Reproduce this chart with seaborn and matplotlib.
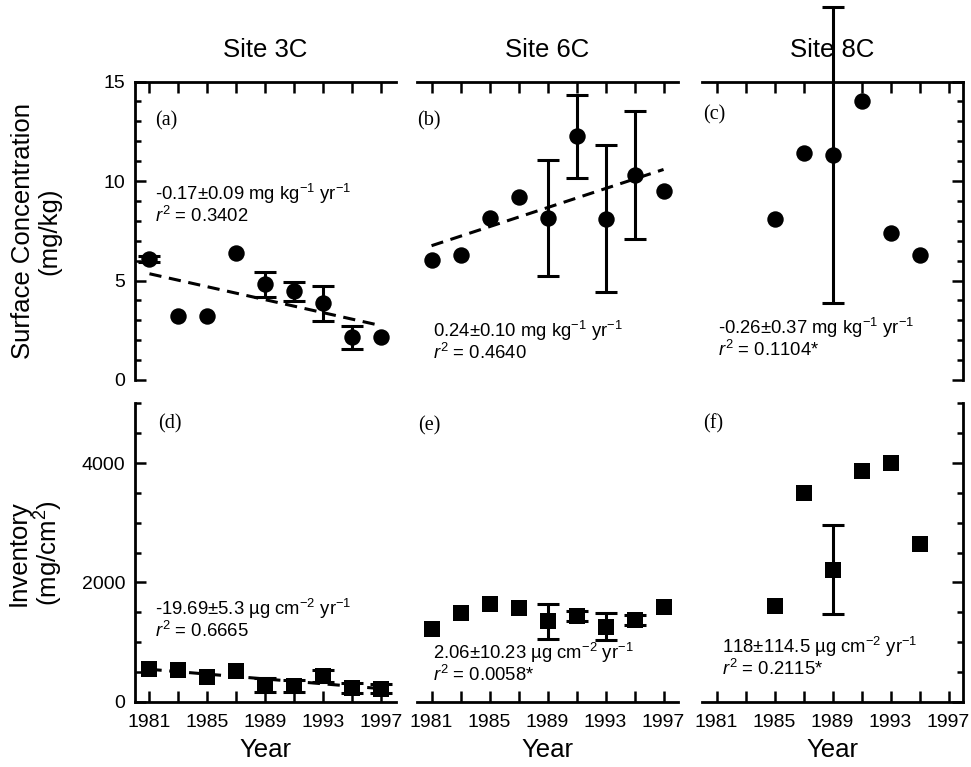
import numpy as np
import pandas as pd
import seaborn as sns
import matplotlib.pyplot as plt

# -----------------------------------
# Data
# -----------------------------------
years = [1981, 1983, 1985, 1987, 1989, 1991, 1993, 1995, 1997]
years_8c = [1985, 1987, 1989, 1991, 1993, 1995]
nan = np.nan

conc_3c = [6.1, 3.2, 3.2, 6.4, 4.8, 4.45, 3.85, 2.15, 2.15]
conc_3c_err = [0.15, nan, nan, nan, 0.63, 0.46, 0.87, 0.58, nan]
conc_6c = [6.05, 6.3, 8.15, 9.2, 8.15, 12.25, 8.1, 10.3, 9.5]
conc_6c_err = [nan, nan, nan, nan, 2.9, 2.1, 3.7, 3.2, nan]
conc_8c = [8.1, 11.4, 11.3, 14.0, 7.4, 6.3]
conc_8c_err = [nan, nan, 7.45, nan, nan, nan]

inv_3c = [545, 535, 410, 520, 280, 265, 425, 230, 220]
inv_3c_err = [nan, nan, nan, nan, 110, 95, 100, 90, 70]
inv_6c = [1215, 1495, 1640, 1570, 1345, 1440, 1260, 1375, 1590]
inv_6c_err = [nan, nan, nan, nan, 290, 85, 225, 85, nan]
inv_8c = [1610, 3490, 2215, 3865, 4005, 2635]
inv_8c_err = [nan, nan, 750, nan, nan, nan]

sites = ["Site 3C", "Site 6C", "Site 8C"]
panel_tags = ["(a)", "(b)", "(c)", "(d)", "(e)", "(f)"]
slope_text = [
    "-0.17±0.09 mg kg$^{-1}$ yr$^{-1}$",
    "0.24±0.10 mg kg$^{-1}$ yr$^{-1}$",
    "-0.26±0.37 mg kg$^{-1}$ yr$^{-1}$",
    "-19.69±5.3 µg cm$^{-2}$ yr$^{-1}$",
    "2.06±10.23 µg cm$^{-2}$ yr$^{-1}$",
    "118±114.5 µg cm$^{-2}$ yr$^{-1}$",
]
r2_text = ["0.3402", "0.4640", "0.1104*", "0.6665", "0.0058*", "0.2115*"]
show_fit = [True, True, False, True, False, False]

# -----------------------------------
# Style
# -----------------------------------
sns.set_style("ticks", {"axes.edgecolor": "black", "xtick.color": "black",
                        "ytick.color": "black", "text.color": "black",
                        "axes.labelcolor": "black"})
plt.rcParams["font.family"] = ["Liberation Sans", "DejaVu Sans"]
plt.rcParams["mathtext.fontset"] = "custom"
plt.rcParams["mathtext.rm"] = "Liberation Sans"
plt.rcParams["mathtext.it"] = "Liberation Sans:italic"

fig = plt.figure(figsize=(9.71, 7.67), dpi=100)

lefts = [0.139, 0.4295, 0.723]
width = 0.2688
bottoms = [0.5046, 0.0851]
height = 0.389

panels = [
    (years, conc_3c, conc_3c_err, "o"),
    (years, conc_6c, conc_6c_err, "o"),
    (years_8c, conc_8c, conc_8c_err, "o"),
    (years, inv_3c, inv_3c_err, "s"),
    (years, inv_6c, inv_6c_err, "s"),
    (years_8c, inv_8c, inv_8c_err, "s"),
]

# per-panel text placement (axes fraction)
tag_pos = [(0.077, 0.867), (0.0, 0.867), (0.005, 0.889),
           (0.087, 0.93), (0.005, 0.925), (0.005, 0.93)]
txt_pos = [(0.077, 0.625), (0.061, 0.165), (0.06, 0.175),
           (0.077, 0.31), (0.061, 0.165), (0.075, 0.185)]

for i, (xs, ys, err, mk) in enumerate(panels):
    row, col = divmod(i, 3)
    ax = fig.add_axes([lefts[col], bottoms[row], width, height])
    df = pd.DataFrame({"year": xs, "val": ys, "err": err})

    if show_fit[i]:
        sns.regplot(data=df, x="year", y="val", ax=ax, scatter=False,
                    ci=None, truncate=True, color="black",
                    line_kws=dict(ls=(0, (4, 2.5)), lw=2.2, zorder=2))

    m = df["err"].notna()
    eb = ax.errorbar(df["year"][m], df["val"][m], yerr=df["err"][m],
                     fmt="none", ecolor="black", elinewidth=2.2,
                     capsize=8, capthick=2.2, zorder=3)
    for child in eb.get_children():
        child.set_clip_on(False)

    sns.scatterplot(data=df, x="year", y="val", ax=ax, marker=mk,
                    s=140 if mk == "o" else 120, color="black",
                    linewidth=0, zorder=4, clip_on=False)

    ax.set_xlim(1980, 1998)
    ax.set_xticks(years[::2])
    ax.set_xticks(years[1::2], minor=True)
    if row == 0:
        ax.set_ylim(0, 15)
        ax.set_yticks([0, 5, 10, 15])
        ax.set_yticks(np.arange(0, 16, 1), minor=True)
    else:
        ax.set_ylim(0, 5000)
        ax.set_yticks([0, 2000, 4000])
        ax.set_yticks(np.arange(0, 5001, 500), minor=True)

    for sp in ax.spines.values():
        sp.set_linewidth(2)
        sp.set_visible(False)

    # x axis
    if row == 0:
        ax.spines["top"].set_visible(True)
        ax.xaxis.set_ticks_position("top")
        ax.tick_params(axis="x", which="both", direction="in", length=8,
                       width=1.8, labeltop=False, labelbottom=False)
        ax.set_title(sites[col], fontsize=18.5, pad=18)
        ax.set_xlabel("")
    else:
        ax.spines["bottom"].set_visible(True)
        ax.xaxis.set_ticks_position("bottom")
        ax.tick_params(axis="x", which="both", direction="in", length=8,
                       width=1.8, labelsize=14, pad=9)
        ax.set_xlabel("Year", fontsize=18.5, labelpad=5)

    # y axis
    if col == 0:
        ax.spines["left"].set_visible(True)
        ax.yaxis.set_ticks_position("left")
        ax.tick_params(axis="y", which="major", direction="in", length=8,
                       width=1.8, labelsize=14, pad=7)
        ax.tick_params(axis="y", which="minor", direction="in", length=4.5,
                       width=1.8)
    elif col == 2:
        ax.spines["right"].set_visible(True)
        ax.yaxis.set_ticks_position("right")
        ax.tick_params(axis="y", which="major", direction="in", length=8,
                       width=1.8, labelright=False, labelleft=False)
        ax.tick_params(axis="y", which="minor", direction="in", length=4.5,
                       width=1.8)
    else:
        ax.tick_params(axis="y", which="both", left=False, right=False,
                       labelleft=False, labelright=False)
    ax.set_ylabel("")

    ax.text(tag_pos[i][0], tag_pos[i][1], panel_tags[i],
            transform=ax.transAxes, family="Liberation Serif",
            fontsize=14.5, ha="left", va="center")
    tx, ty = txt_pos[i]
    ax.text(tx, ty, slope_text[i], transform=ax.transAxes,
            fontsize=13.3, ha="left", va="center")
    ax.text(tx, ty - 0.074, "$r^2$ = " + r2_text[i], transform=ax.transAxes,
            fontsize=13.3, ha="left", va="center")

fig.text(36 / 971, 1 - 231 / 767, "Surface Concentration\n(mg/kg)",
         rotation=90, ha="center", va="center", fontsize=18.5,
         linespacing=1.1)
fig.text(36 / 971, 1 - 553 / 767, "Inventory\n(mg/cm$^2$)",
         rotation=90, ha="center", va="center", fontsize=18.5,
         linespacing=1.1)

plt.savefig("out.png", dpi=100)
